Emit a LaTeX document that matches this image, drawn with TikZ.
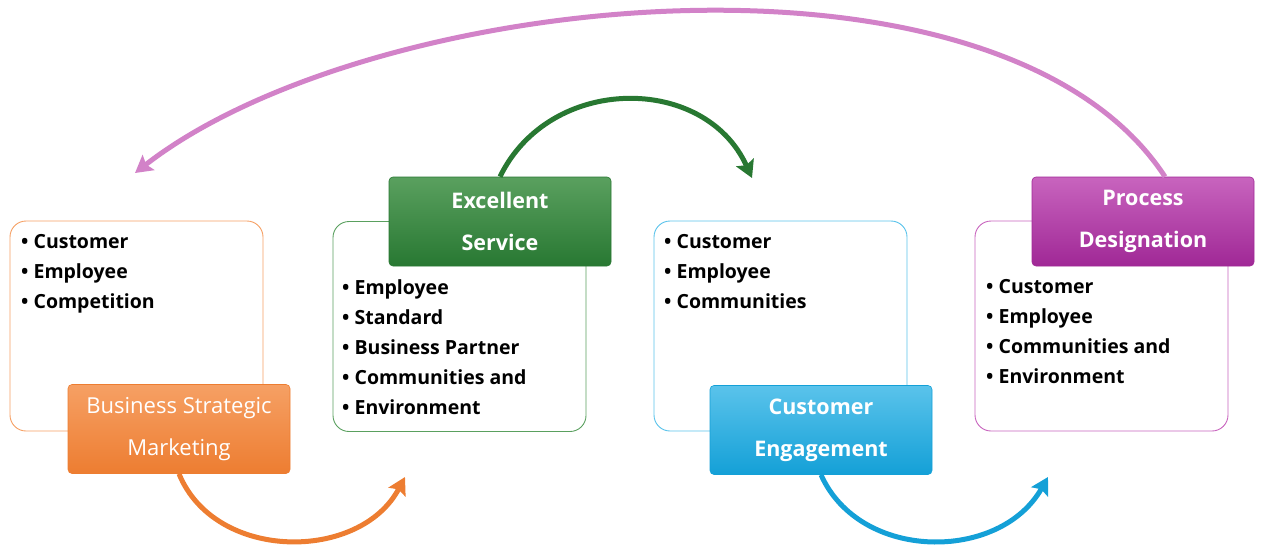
\documentclass[tikz,border=0pt]{standalone}
\usepackage{fontspec}
\setmainfont{Open Sans}
\usetikzlibrary{arrows.meta}
\definecolor{cor}{RGB}{237,125,49}
\definecolor{corL}{RGB}{246,160,100}
\definecolor{cgr}{RGB}{40,120,50}
\definecolor{cgrL}{RGB}{90,160,95}
\definecolor{cbl}{RGB}{20,160,215}
\definecolor{cblL}{RGB}{90,195,235}
\definecolor{cpu}{RGB}{160,40,150}
\definecolor{cpuL}{RGB}{200,100,190}
\definecolor{cpk}{RGB}{210,130,200}
\tikzset{
  outline/.style={draw=#1, line width=0.9pt, rounded corners=16pt, fill=white, minimum width=253pt, minimum height=210pt},
  title/.style args={#1/#2}{rounded corners=4pt, top color=#2, bottom color=#1, draw=#1, line width=0.6pt, minimum width=222pt, minimum height=89pt, text=white, align=center, font=\fontsize{22}{42}\selectfont},
  btitle/.style={font=\bfseries\fontsize{21.5}{42}\selectfont},
  items/.style={anchor=north west, align=left, font=\bfseries\fontsize{19.5}{30}\selectfont, inner sep=0pt},
  flow/.style={draw=#1, line width=5pt, -{Stealth[length=17pt,width=19pt,inset=3pt]}}
}
\begin{document}
\begin{tikzpicture}[x=1pt,y=-1pt]
\useasboundingbox (0,0) rectangle (1261,546);
% outline boxes
\node[outline=corL] (b1) at (136.5,326) {};
\node[outline=cgrL] (b2) at (459.5,326.5) {};
\node[outline=cblL] (b3) at (780.5,326) {};
\node[outline=cpuL] (b4) at (1101.5,326) {};
% bullet lists
\node[items] (l1) at (21,234) {• Customer\\• Employee\\• Competition};
\node[items] (l2) at (342,279) {• Employee\\• Standard\\• Business Partner\\• Communities and\\• Environment};
\node[items] (l3) at (664,234) {• Customer\\• Employee\\• Communities};
\node[items] (l4) at (986,279) {• Customer\\• Employee\\• Communities and\\• Environment};
% titles
\node[title=cor/corL] (t1) at (179,429) {Business Strategic\\Marketing};
\node[title=cgr/cgrL, btitle] (t2) at (500,221.5) {Excellent\\Service};
\node[title=cbl/cblL, btitle] (t3) at (821,430) {Customer\\Engagement};
\node[title=cpu/cpuL, btitle] (t4) at (1143,221.5) {Process\\Designation};
% arrow ends
\coordinate (e1) at (405,477);
\coordinate (e2) at (752,178);
\coordinate (e3) at (1048,477);
\coordinate (e4) at (135,173);
% arrows
\draw[flow=cor] (t1.south) .. controls (215,562) and (360,562) .. (e1);
\draw[flow=cgr] (t2.north) .. controls (550,74) and (705,74) .. (e2);
\draw[flow=cbl] (t3.south) .. controls (860,562) and (1000,562) .. (e3);
\draw[flow=cpk] ([xshift=22pt]t4.north) .. controls (1000,-75) and (370,-10) .. (e4);
\end{tikzpicture}
\end{document}
